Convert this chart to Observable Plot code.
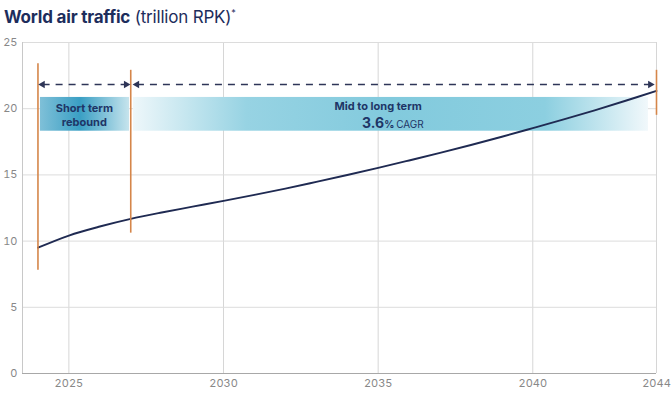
<!DOCTYPE html>
<html><head><meta charset="utf-8">
<script src="https://cdn.jsdelivr.net/npm/d3@7"></script>
<script src="https://cdn.jsdelivr.net/npm/@observablehq/plot@0.6"></script>
<style>
body{margin:0;background:#fff;font-family:Inter,"Noto Sans",sans-serif;}
#title{height:30px;padding-left:4px;font-size:17px;color:#1d2d5c;line-height:26px;letter-spacing:-0.2px;}
#title b{font-weight:700}
#title span{font-weight:400}
#title sup{font-size:9px;vertical-align:7px}
</style></head><body>
<div id="title"><b>World air traffic</b> <span>(trillion RPK)</span><sup>*</sup></div>
<div id="chart"></div>
<script>
const years = [2024,2025,2026,2027,2028,2029,2030,2031,2032,2033,2034,2035,2036,2037,2038,2039,2040,2041,2042,2043,2044];
const rpk = [9.5,10.42,11.1,11.68,12.16,12.6,13.04,13.49,13.96,14.47,14.99,15.53,16.09,16.66,17.26,17.88,18.53,19.19,19.88,20.6,21.34];
const xTicks = [2025,2030,2035,2040,2044];
const yTicks = [0,5,10,15,20,25];
const markerYears = [2024,2027,2044];
const markerLow = [7.8,10.6,19.5];
const markerHigh = [23.4,22.9,22.9];
const phaseStart = [2024.08,2027.09];
const phaseEnd = [2026.96,2043.74];
const phaseLabels = ["Short term\nrebound","Mid to long term"];
const phaseLabelX = [2025.5,2035];
const phaseLabelY = [19.55,20.2];
const bandLow = 18.3, bandHigh = 20.85;
const arrowY = 21.83;
const arrowStart = [2024.15,2027.2];
const arrowEnd = [2026.85,2043.8];
const cagrValue = "3.6";
const cagrUnit = "%";
const cagrText = "CAGR";

const series = years.map((y,i)=>({year:y, value:rpk[i]}));
const markers = markerYears.map((y,i)=>({year:y, lo:markerLow[i], hi:markerHigh[i]}));
const bands = phaseStart.map((s,i)=>({x1:s, x2:phaseEnd[i], id:"g"+i}));
const arrows = arrowStart.map((s,i)=>({x1:s, x2:arrowEnd[i]}));
const heads = arrows.flatMap(a=>[{x:a.x1, r:-90},{x:a.x2, r:90}]);

const navy = "#1f2a52";
const textNavy = "#1e3566";

function defs(){
  const d = d3.create("svg:defs");
  const g0 = d.append("linearGradient").attr("id","g0");
  [[0,"#7fc0d8"],[0.45,"#3a9fc4"],[1,"#c6e4ed"]].forEach(([o,c])=>g0.append("stop").attr("offset",o).attr("stop-color",c));
  const g1 = d.append("linearGradient").attr("id","g1");
  [[0,"#eef7fa"],[0.22,"#97d3e3"],[0.5,"#82cadd"],[0.8,"#8ccfe0"],[1,"#f1f8fb"]].forEach(([o,c])=>g1.append("stop").attr("offset",o).attr("stop-color",c));
  return d.node();
}

const chart = Plot.plot({
  width: 672,
  height: 366,
  marginTop: 12,
  marginBottom: 23,
  marginLeft: 22,
  marginRight: 16,
  style: {fontFamily: "Inter, 'Noto Sans', sans-serif", fontSize: "11px", color: "#888"},
  x: {domain: [2023.5, 2044], ticks: xTicks, tickFormat: d=>String(d), tickSize: 0, tickPadding: 6, label: null},
  y: {domain: [0, 25], ticks: yTicks, tickSize: 0, tickPadding: 5, label: null},
  marks: [
    defs,
    Plot.gridX(xTicks, {stroke: "#d6d6d6", strokeOpacity: 1}),
    Plot.gridY(yTicks, {stroke: "#dcdcdc", strokeOpacity: 1}),
    Plot.ruleX([2023.5], {stroke: "#c8c8c8"}),
    Plot.ruleY([0], {stroke: "#a8a8a8", strokeWidth: 1.2}),
    Plot.rect(bands, {x1: "x1", x2: "x2", y1: bandLow, y2: bandHigh, fill: d=>`url(#${d.id})`}),
    Plot.line(series, {x: "year", y: "value", stroke: navy, strokeWidth: 1.9, curve: "catmull-rom"}),
    Plot.ruleX(markers, {x: "year", y1: "lo", y2: "hi", stroke: "#d5864a", strokeWidth: 1.6}),
    Plot.link(arrows, {x1: "x1", x2: "x2", y1: arrowY, y2: arrowY, stroke: "#2e3557", strokeWidth: 1.5, strokeDasharray: "7,6"}),
    Plot.dot(heads, {x: "x", y: arrowY, rotate: "r", symbol: "triangle2", r: 3.6, fill: "#2e3557"}),
    Plot.text([0], {x: phaseLabelX[0], y: phaseLabelY[0], text: [phaseLabels[0]], fill: textNavy, fontWeight: 700, fontSize: 11, lineHeight: 1.25}),
    Plot.text([0], {x: phaseLabelX[1], y: phaseLabelY[1], text: [phaseLabels[1]], fill: textNavy, fontWeight: 700, fontSize: 11}),
    Plot.text([0], {x: phaseLabelX[1], y: 18.85, text: [cagrValue], fill: textNavy, fontWeight: 700, fontSize: 14, textAnchor: "end", dx: 6}),
    Plot.text([0], {x: phaseLabelX[1], y: 18.8, text: [cagrUnit], fill: textNavy, fontWeight: 700, fontSize: 10, textAnchor: "start", dx: 6}),
    Plot.text([0], {x: phaseLabelX[1], y: 18.8, text: [cagrText], fill: textNavy, fontWeight: 400, fontSize: 10, textAnchor: "start", dx: 18})
  ]
});
document.getElementById("chart").append(chart);
</script>
</body></html>
